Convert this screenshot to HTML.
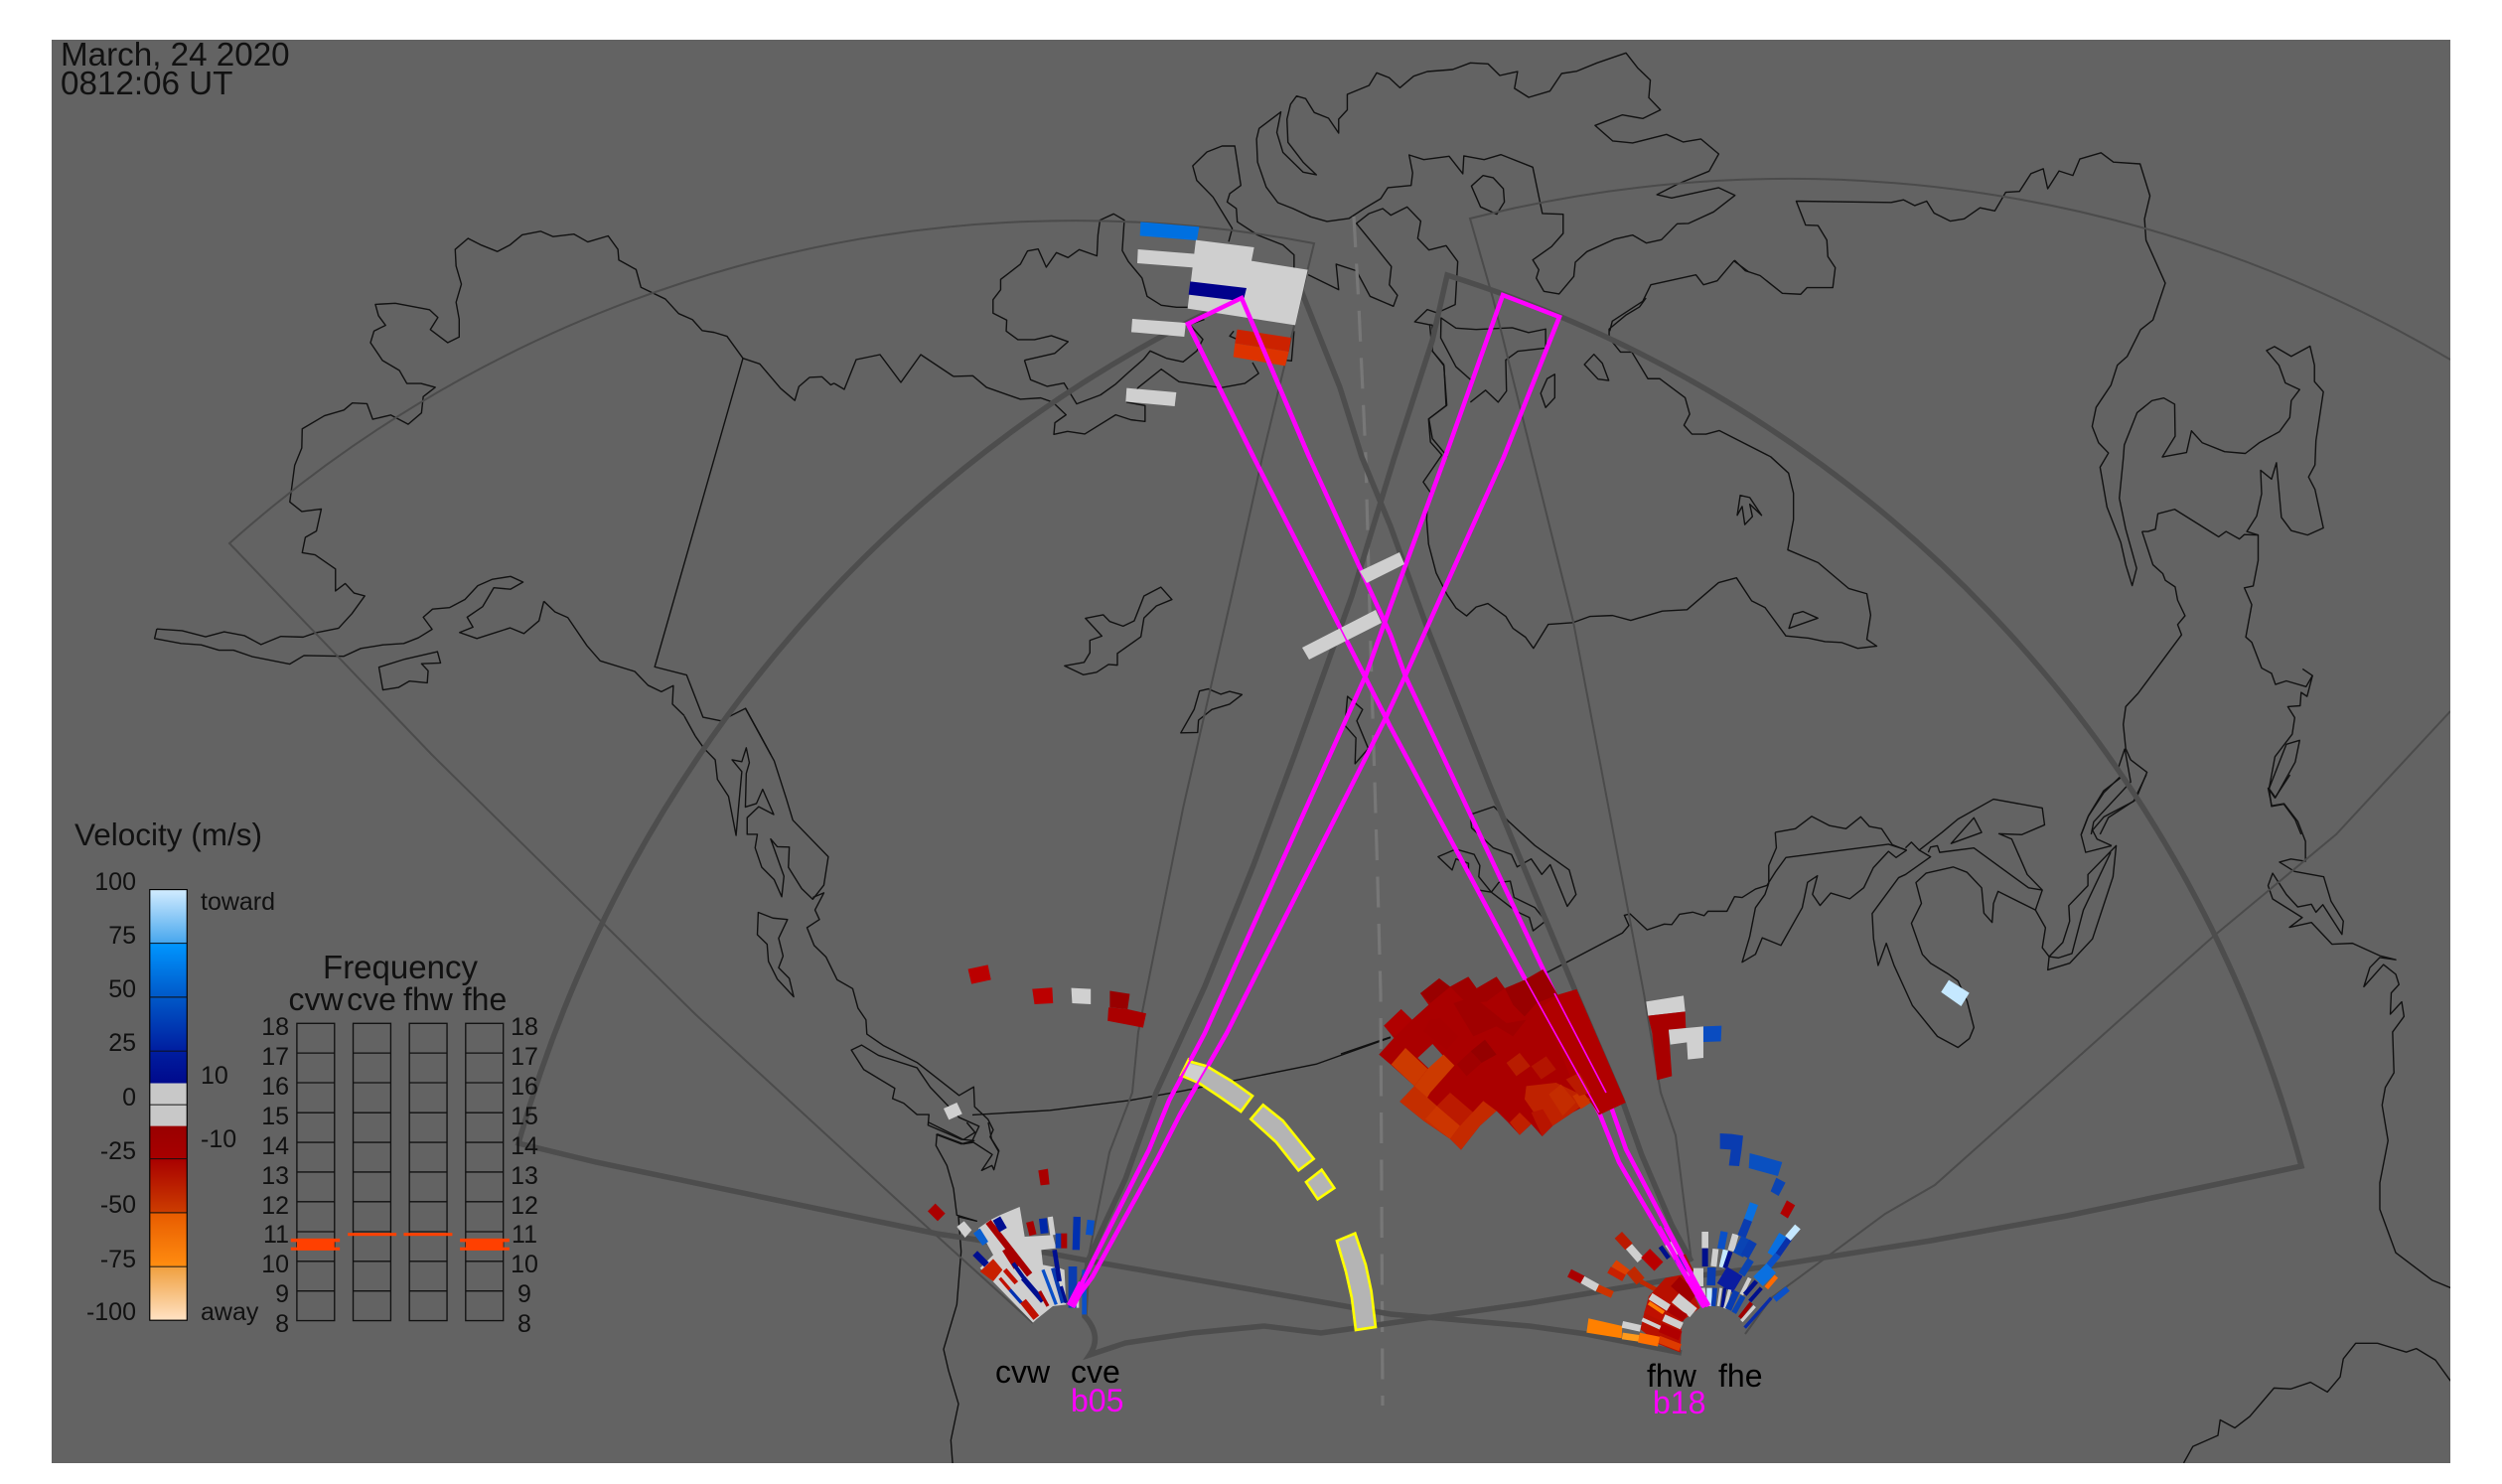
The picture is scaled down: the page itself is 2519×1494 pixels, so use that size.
<!DOCTYPE html>
<html><head><meta charset="utf-8"><style>
html,body{margin:0;padding:0;background:#fff}
svg{display:block}
.c *{fill:none;stroke:#111;stroke-width:1.4;vector-effect:non-scaling-stroke;stroke-linejoin:round}
.t{fill:none;stroke:#4b4b4b;stroke-width:2}
.k{fill:none;stroke:#4d4d4d;stroke-width:5.5;stroke-linejoin:miter}
text{font-family:"Liberation Sans",Arial,sans-serif;fill:#111}
.n{font-size:25px}
.e{text-anchor:end}.m{text-anchor:middle}
</style></head><body>
<svg xmlns="http://www.w3.org/2000/svg" width="2519" height="1494" viewBox="0 0 2519 1494">
<defs>
<clipPath id="p"><rect x="52" y="40" width="2415" height="1433"/></clipPath>
<linearGradient id="cb" x1="0" y1="0" x2="0" y2="1">
<stop offset="0" stop-color="#d2ecff"/><stop offset=".122" stop-color="#4aa8ee"/><stop offset=".125" stop-color="#0096ff"/>
<stop offset=".25" stop-color="#0058c8"/><stop offset=".374" stop-color="#001ea0"/><stop offset=".449" stop-color="#000a8c"/>
<stop offset=".45" stop-color="#c8c8c8"/><stop offset=".548" stop-color="#c8c8c8"/><stop offset=".55" stop-color="#990000"/>
<stop offset=".625" stop-color="#a80000"/><stop offset=".748" stop-color="#cc3c00"/><stop offset=".752" stop-color="#e85c00"/>
<stop offset=".873" stop-color="#ff8c10"/><stop offset=".877" stop-color="#f0a040"/><stop offset="1" stop-color="#ffe2c4"/>
</linearGradient>
</defs>
<rect x="52" y="40" width="2415" height="1433" fill="#636363"/>
<g clip-path="url(#p)">

<!-- coast: crop 7 -->
<g class="c" transform="translate(140,200) scale(.4464,.3571)">
<polyline points="40,1213 97,1218 150,1235 192,1221 238,1232 275,1257 320,1234 370,1236 398,1224 450,1211 480,1170 509,1120 485,1112 465,1085 443,1106 443,1044 397,1004 368,998 375,955 400,937 411,875 367,882 340,855 351,752 367,703 368,649 418,612 462,596 481,576 514,578 527,622 568,610 607,636 637,604 641,558 668,532 636,521 604,521 587,484 549,456 522,406 530,373 556,357 540,330 533,298 578,295 655,313 674,335 657,369 696,406 722,390 722,340 715,292 727,241 715,190 713,143 742,112 770,130 808,149 836,131 864,102 906,92 934,107 981,100 1012,122 1058,105 1080,143 1082,173 1121,200 1132,250 1187,283 1217,324 1248,341 1270,372 1297,377 1326,388 1362,450 1400,466 1447,535 1479,569 1488,530 1512,504 1540,502 1560,525 1568,520"/>
<polyline points="1362,450 1163,1320 1235,1343 1272,1462 1312,1472 1368,1437 1400,1510 1425,1568"/>
<polyline points="913,1135 938,1165 967,1181 1010,1260 1040,1303 1118,1333 1148,1372 1178,1390 1205,1373 1203,1425 1230,1458"/>
<polyline points="913,1135 902,1190 868,1226 837,1210 762,1240 723,1223 753,1208 740,1180 775,1150 800,1097 838,1101 866,1081 838,1065 797,1073 764,1091 735,1130 700,1153 662,1157 641,1180 661,1214 630,1238 597,1254 550,1258 500,1268 462,1290 372,1288 340,1312 255,1291 213,1273 180,1273 140,1258 95,1254 35,1240 40,1213"/>
<polygon points="541,1321 600,1298 673,1277 680,1309 637,1311 652,1331 650,1365 610,1360 585,1378 550,1385"/>
</g>
<g class="c"><polyline points="840,386 850,392 862,362 886,357 907,385 927,357 960,379"/><polyline points="689,721 700,741"/></g>

<!-- coast: crop 8 -->
<g class="c" transform="translate(700,600) scale(.4464,.3571)">
<polyline points="113,317 178,465 205,570 220,632 300,735 290,815 265,855 240,825 210,765 212,708 185,707 170,685 200,790 195,848 178,800 150,765 135,710 140,672 117,672 117,625 143,594 177,616 152,545 138,585 113,595 115,500 122,470 115,428 105,467 83,462 105,495 98,590 92,675 75,565 50,517 45,462 20,430 0,395"/>
<polyline points="265,850 290,837 270,885 280,912 252,935 268,985 295,1018 320,1082 355,1107 367,1162 385,1195 387,1235 425,1268 500,1315 595,1408 628,1384 630,1440 660,1475 672,1505 665,1525 685,1568"/>
<polygon points="352,1280 375,1266 413,1295 500,1330 530,1385 595,1470 640,1495 625,1535 600,1532 525,1492 527,1462 500,1462 470,1430 445,1417 450,1388 380,1335"/>
<polygon points="142,892 175,908 208,912 188,965 198,1015 188,1048 212,1078 222,1130 185,1080 165,1030 162,982 140,955"/>
<polygon points="880,63 920,53 935,72 965,85 990,70 1012,0 1050,-25 1075,10 1040,28 1012,62 1005,115 952,162 952,195 932,193 905,215 875,222 833,197 877,187 890,160 890,125 917,113"/>
<polygon points="1137,268 1157,262 1185,277 1205,269 1233,278 1205,305 1165,320 1135,350 1133,385 1095,386 1125,320"/>
<polygon points="1471,283 1505,320 1492,352 1518,430 1488,473 1490,400 1465,365"/>
<polyline points="625,1463 800,1450 980,1422 1100,1395 1200,1370 1400,1320 1568,1245"/>
<polyline points="543,1518 600,1545 630,1535"/>
</g>

<!-- coast: crop 2 -->
<g class="c" transform="translate(900,1130) scale(.3333)">
<polyline points="105,0 210,52 245,30 220,0"/>
<polyline points="130,35 210,65 240,60 297,97 265,145 296,130 302,143 317,85 295,50 285,0"/>
<polyline points="130,35 127,70 160,130 180,200 190,280 250,298 195,285 203,390 190,550 150,685 165,750 195,850 172,960 178,1040"/>
</g>

<!-- coast: crop 9 -->
<g class="c" transform="translate(960,40) scale(.5102,.3333)">
<polyline points="0,1017 38,1015 65,1050 132,1086 172,1082 196,1095 222,1133 200,1157 198,1192 225,1183 259,1191 320,1133 350,1148 378,1153 378,1105 342,1095 365,1050 410,995 445,1033 528,1051 575,1038 602,1008 590,975"/>
<polyline points="140,968 152,1027 185,1047 218,1037 243,1100 290,1073 320,1040 345,1005 375,965 388,940 420,962 453,973 480,940 492,905 466,860 495,845"/>
<polyline points="140,968 200,947 226,912 193,894 160,906 127,906 104,880 105,847 78,826 78,785 93,755 93,724 132,678 146,638 167,632 183,687 203,643 226,658 248,634 283,653 285,590 289,545 316,526 337,545 333,637 345,670 372,720 382,775 410,802 440,808 462,808"/>
<polyline points="543,610 550,570 512,475 480,425 472,381 500,339 530,321 555,321 567,440 545,465 540,490 558,510 560,550 600,590 650,620 672,650 672,700"/>
<polyline points="700,710 760,755 755,678 795,698 822,775 868,805 876,772 860,740 864,685 835,630 795,555 820,525 847,510 863,530 895,505 922,548 916,600 938,635 972,622 995,670 990,800 954,825 935,815 910,852 937,860 945,862 945,940 968,985 972,1105 938,1145 945,1205 975,1260"/>
<polygon points="603,268 646,218 638,280 650,340 690,400 716,408 690,370 660,310 658,240 665,195 677,170 695,178 712,220 740,237 760,282 760,240 777,212 777,165 820,138 835,100 860,115 881,145 908,110 935,96 985,90 1020,70 1055,73 1078,108 1113,96 1107,147 1135,174 1177,155 1200,102 1230,95 1270,70 1327,40 1350,85 1375,122 1372,175 1395,212 1360,238 1320,227 1266,259 1301,306 1340,312 1407,286 1440,309 1475,300 1510,345 1491,397 1430,435 1388,468 1417,478 1510,447 1542,470 1500,520 1450,555 1428,556 1397,604 1367,614 1340,590 1305,602 1250,640 1227,672 1224,715 1195,768 1165,760 1150,720 1155,695 1143,665 1180,625 1203,585 1203,527 1162,525 1143,385 1080,347 1047,362 1007,351 1005,405 978,352 928,362 899,348 906,402 903,440 857,447 843,480 810,510 780,540 737,549 705,535 670,510 640,492 617,445 600,370 598,300"/>
<polygon points="1045,410 1022,442 1040,505 1072,527 1087,490 1085,450 1065,417"/>
<polyline points="1295,880 1300,850 1340,810 1360,790 1376,740 1465,710 1480,740 1507,728 1540,668 1568,700"/>
<polyline points="553,880 545,895 560,905"/>
<polyline points="672,880 667,970 640,965"/>
</g>

<!-- coast: crop 10 -->
<g class="c" transform="translate(1400,300) scale(.3827,.4464)">
<polyline points="672,0 655,20 620,38 575,70 575,90 605,122 635,122 677,182 708,182 775,225 787,262 772,287 793,307 830,307 865,299 1000,358 1047,395 1060,440 1060,500 1045,568 1125,597 1205,655 1253,667 1263,715 1253,770 1279,785 1229,790 1187,777 1143,775 1100,767 1040,762 985,698 950,683 910,631 863,642 780,703 715,706 632,727 584,716 525,718 480,732 415,736 376,790 355,765 322,745 303,718 256,689 225,697 200,717 172,699 148,668 120,620 100,555 95,500 97,467 110,445 86,415 135,354 105,325 100,273 148,242 140,150 110,120 103,60"/>
<polyline points="218,190 172,155 132,90 133,45 172,68 225,71 320,67 363,78 408,70 408,113 335,120 303,140 305,210 283,235 250,208 210,235"/>
<polygon points="510,150 535,127 557,147 574,186 546,183"/>
<polygon points="432,172 412,182 395,215 408,247 432,225"/>
<polygon points="920,445 912,490 925,470 932,511 952,493 945,465 976,490 945,450"/>
<polygon points="1060,713 1085,707 1124,722 1048,745"/>
<polygon points="210,1165 272,1147 310,1180 380,1235 470,1290 488,1345 465,1372 420,1278 398,1300 370,1265 333,1283 318,1255 270,1240 213,1195"/>
<polyline points="172,1243 220,1255 235,1280 232,1305 265,1340 285,1318 315,1315 325,1352 380,1375 408,1405 375,1427 365,1397 330,1383 265,1340 230,1335"/>
<polyline points="172,1243 125,1260 162,1290 172,1265 205,1275 205,1292"/>
<polyline points="410,1522 470,1495 610,1432 627,1415 615,1392 630,1389 675,1425 720,1412 740,1413 760,1390 795,1385 825,1393 835,1383 885,1383 905,1350 925,1352 960,1333 990,1325 1012,1295 1040,1262 1310,1232 1358,1245"/>
<polyline points="1012,1205 1065,1197 1108,1169 1155,1190 1198,1197 1237,1170 1260,1192 1292,1197 1320,1233 1355,1245"/>
<polyline points="1012,1205 1015,1240 995,1280 995,1320 985,1345 960,1375 945,1440 925,1498 960,1480 978,1443 1027,1460 1083,1375 1097,1318 1123,1303 1110,1345 1130,1370 1158,1342 1208,1355 1245,1330 1270,1285 1310,1248 1330,1262 1358,1245"/>
</g>
<g class="c" transform="translate(1350,950) scale(.3333)">
<polyline points="0,333 150,282"/>
</g>

<!-- coast: crop 11 -->
<g class="c" transform="translate(1700,140) scale(.4974,.4464)">
<polyline points="93,273 115,297 145,308 190,348 227,350 240,335 292,335 297,290 282,265 280,228 262,195 237,194 218,140 410,143 435,137 458,150 482,140 497,167 530,185 558,180 590,155 620,162 642,120 670,118 693,78 718,67 727,112 750,72 778,82 792,45 835,31 860,52 914,56 934,128 923,180 926,228 965,325 940,408 915,430 888,490 868,510 855,555 825,605 817,648 830,685 850,708 833,740 847,830 875,910 885,960 898,1007 907,968 885,880 872,810 880,720 882,690 908,617 938,590 962,584 984,598 985,670 959,717 1008,707 1018,658 1040,685 1085,705 1127,709 1155,685 1196,660 1217,628 1220,590 1237,565 1208,550 1195,510 1170,477 1186,468 1220,490 1258,467 1267,510 1267,547 1285,570 1270,680 1268,735 1255,762 1268,790 1285,877 1253,893 1220,883 1200,853 1190,730 1180,767 1158,747 1160,800 1150,850 1130,885 1153,893 1153,950 1143,1008 1125,1012 1140,1050 1128,1123 1140,1135 1160,1193 1180,1205 1188,1230 1210,1222 1250,1235 1263,1210 1243,1195"/>
<polyline points="1263,1210 1252,1257 1240,1248 1238,1278 1213,1280 1227,1305 1222,1342 1187,1393 1175,1465 1180,1505 1205,1500 1228,1535 1240,1568"/>
<polyline points="918,885 930,885 945,880 950,845 984,835 1060,888 1073,897 1088,885 1115,902 1125,892 1153,893"/>
<polyline points="918,885 940,960 960,980 965,995 985,1010 990,1040 1005,1075 990,1095 998,1118 910,1250 885,1280 880,1320 885,1375 895,1400 928,1428 905,1490 850,1530 833,1568"/>
<polyline points="883,1375 870,1418 875,1440 840,1470 810,1525 795,1568"/>
<polyline points="883,1375 895,1450 820,1540 815,1568"/>
<polygon points="1210,1365 1237,1356 1228,1405 1188,1485 1175,1465"/>
</g>

<!-- coast: crop 12 -->
<g class="c" transform="translate(1760,780) scale(.4592,.4464)">
<polyline points="345,165 358,152 375,170 400,185 345,225 330,232 272,313 275,370 285,430 303,380 320,430 360,520 415,590 460,615 485,595 495,570 480,510 460,465 440,450 400,425 382,405 358,335 380,290 368,243 390,222 450,208 480,220 512,255 517,312 535,333 538,290 548,263 630,305 645,260 612,225 578,145 550,133 600,135 650,113 645,75 538,55 460,100 425,130 375,170"/>
<polygon points="445,155 495,97 512,130"/>
<polyline points="395,175 400,163 415,160 420,175 495,165 615,255 645,260"/>
<polyline points="630,305 652,345 645,390 660,410 680,413 710,403 735,305 795,175"/>
<polyline points="660,410 690,378 705,330 703,295 745,250 745,225 807,160 800,230 755,370 705,425 657,440 660,410"/>
<polyline points="797,160 765,145 755,125 780,95 845,60 873,0"/>
<polyline points="797,160 740,175 730,135 745,95 780,40 815,5"/>
<polyline points="1188,0 1155,52 1140,30 1148,70 1175,65 1205,105 1222,150 1222,195 1190,190 1165,197 1198,218 1262,230 1278,285 1305,330 1302,360 1260,293 1245,310 1235,292 1205,298 1180,270 1150,222 1140,250 1150,280 1215,322 1187,344 1235,333 1280,382 1325,380 1385,408 1420,417 1385,412 1363,435 1350,478 1393,428 1420,450 1427,473 1410,492 1408,540 1433,512 1438,545 1413,580 1416,672 1397,705 1390,745 1403,825 1385,920 1385,980 1420,1078 1500,1140 1540,1157"/>
<polyline points="955,1552 975,1515 1030,1490 1035,1455 1067,1473 1100,1447 1153,1383 1190,1385 1233,1370 1270,1392 1298,1358 1305,1317 1332,1282 1380,1282 1443,1302 1465,1294 1507,1320 1540,1367"/>
</g>

<!-- thin FOV -->
<path class="t" d="M1040,1332 L900,1205 700,1021 435,760 231,547 A1278,1278 0 0 1 1323,245 L1271,460 1240,600 1191,814 1146,1039 1140,1100 1117,1160 1095,1270 1080,1310"/>
<path class="t" d="M1703,1270 L1687,1143 1672,1100 1655,1000 1584,626 1503,300 1480,220 A1308,1308 0 0 1 2467,362"/>
<polyline class="t" points="2467,716 2352,840 2228,943 1948,1193 1898,1222 1783,1307 1757,1343"/>

<!-- dashed centre -->
<polyline fill="none" stroke="#777" stroke-width="3.2" stroke-dasharray="31,16.5" points="1363,218 1368,307 1375,460 1380,653 1387,886 1390,1000 1391,1200 1392,1415"/>

<!-- thick FOV -->
<path class="k" d="M1693,1362 L1597,1343 1540,1335 1400,1323 1100,1270 983,1248 943,1242 900,1233 600,1170 522,1151 A1340,1340 0 0 1 1303,275 L1349,390 1371,460 1400,530 1438,635 1500,791 1587,1000 1633,1107 1653,1163 1683,1233 1703,1270"/>
<path class="k" d="M1095,1270 L1092,1325 Q1110,1345 1097,1364 L1133,1352 1200,1342 1273,1335 1313,1340 1330,1342 1400,1332 1540,1312 1683,1288 1780,1275 1944,1249 2081,1224 2219,1195 2317,1174 A1291,1291 0 0 0 1457,277 L1442,343 1404,460 1361,600 1303,761 1262,871 1213,993 1164,1100 1133,1187 1113,1230 1095,1270"/>

<!-- magenta beams (under scatter) -->
<g fill="none" stroke="#ff00ff" stroke-width="4.5" stroke-linejoin="miter">
<polyline points="1078,1315 1100,1270 1157,1157 1177,1108 1213,1040 1375,680 1400,610 1455,460 1513,297 1570,319 1514,460 1415,680 1396,721 1235,1040 1188,1122 1165,1167 1100,1285 1078,1315"/>
<polyline points="1715,1315 1630,1170 1610,1120 1534,983 1400,732 1262,460 1196,326 1250,300 1318,460 1400,639 1415,681 1565,1000 1617,1100 1637,1157 1720,1315"/>
</g>

<!-- north scatter, crop 4 -->
<g transform="translate(1100,200) scale(.3333)">
<polygon fill="#0070e0" points="145,70 322,85 315,126 143,112"/>
<polygon fill="#cfcfcf" points="137,153 310,167 305,208 135,195"/>
<polygon fill="#cfcfcf" points="312,125 488,147 480,188 650,215 612,382 287,332"/>
<polygon fill="#00008b" points="295,250 465,270 455,310 290,290"/>
<polygon fill="#cfcfcf" points="120,363 282,375 277,417 117,403"/>
<polygon fill="#cfcfcf" points="103,572 253,585 248,627 100,613"/>
<polygon fill="#cc2200" points="437,395 600,420 593,462 430,437"/>
<polygon fill="#dd3300" points="430,437 593,462 582,505 425,478"/>
</g>
<polyline fill="none" stroke="#ff00ff" stroke-width="4.5" stroke-linejoin="miter" points="1262,460 1196,326 1250,300 1318,460"/>
<polygon fill="#cfcfcf" points="1369,575 1409,556 1414,568 1376,587"/>
<polygon fill="#cfcfcf" points="1311,652 1385,614 1391,627 1318,664"/>

<!-- crop 8 scatter -->
<g transform="translate(700,600) scale(.4464,.3571)">
<polygon fill="#bb0000" points="615,1052 660,1040 667,1082 623,1094"/>
<polygon fill="#bb0000" points="760,1108 805,1104 807,1148 765,1151"/>
<polygon fill="#d0d0d0" points="848,1105 892,1108 892,1151 850,1148"/>
<polygon fill="#990000" points="935,1113 980,1122 975,1165 935,1160"/>
<polygon fill="#aa0000" points="932,1160 975,1165 1017,1177 1010,1217 930,1198"/>
<polygon fill="#d0d0d0" points="560,1445 590,1428 602,1460 572,1477"/>
</g>
<g transform="translate(1760,780) scale(.4592,.4464)">
<polygon fill="#c5e8ff" points="423,490 440,463 485,492 467,522"/>
</g>

<!-- red cluster, crop 5 -->
<g transform="translate(1350,950) scale(.3333)">
<polygon fill="#aa0000" fill-rule="evenodd" points="240,150 297,105 330,130 385,100 410,135 470,100 495,135 555,110 610,78 655,155 712,138 860,480 780,517 755,480 700,510 640,550 608,582 575,545 540,578 505,540 470,505 420,550 363,623 330,590 250,535 178,477 222,430 150,365 115,335 160,285 130,248 182,198 215,230 265,185"/>
<polygon fill="#636363" points="232,345 277,303 310,340 265,377"/>
<polygon fill="#990000" points="240,150 297,105 330,130 270,180"/>
<polygon fill="#a00000" points="330,130 385,100 410,135 470,100 495,135 440,175 380,180"/>
<polygon fill="#990000" points="495,135 555,110 610,78 655,155 590,180 555,220 520,185"/>
<polygon fill="#b00000" points="130,248 182,198 215,230 165,280"/>
<polygon fill="#a80000" points="270,230 300,225 355,280 320,320 250,265"/>
<polygon fill="#b00000" points="610,190 655,155 712,138 860,480 780,517 755,470 700,420"/>
<polygon fill="#a00000" points="340,180 400,160 500,240 560,230 520,280 470,250 400,280"/>
<polygon fill="#950000" points="392,325 435,290 470,335 425,360"/>
<polygon fill="#a00000" points="350,365 392,325 425,360 380,400"/>
<polygon fill="#cc3a00" points="152,365 195,315 262,378 222,430"/>
<polygon fill="#cc3a00" points="178,477 222,430 262,378 310,335 343,368 270,450 240,500"/>
<polygon fill="#c42e00" points="178,477 222,430 290,490 360,550 330,590 250,535"/>
<polygon fill="#cc3500" points="255,530 290,490 360,550 330,590"/>
<polygon fill="#bb1a00" points="290,490 330,450 400,510 360,550"/>
<polygon fill="#c42a00" points="360,550 430,475 470,505 420,550 363,623 330,590"/>
<polygon fill="#b81c00" points="500,360 540,330 572,370 530,400"/>
<polygon fill="#b41400" points="575,370 620,340 650,380 605,410"/>
<polygon fill="#bf2200" points="560,430 650,420 755,470 700,510 640,550 590,520 555,470"/>
<polygon fill="#c42c00" points="628,455 665,425 710,480 670,520"/>
<polygon fill="#cc3500" points="700,460 730,445 755,480 725,500"/>
<polygon fill="#c02000" points="510,540 540,510 575,545 540,578"/>
<polygon fill="#b81400" points="575,510 610,500 640,550 608,582"/>
<polygon fill="#ba1a00" points="680,410 720,390 755,450 720,460"/>
<polygon fill="#d0d0d0" points="922,175 1035,157 1040,205 928,218"/>
<polygon fill="#a80000" points="928,218 1040,205 1042,255 990,262 1000,400 955,412 940,270"/>
<polygon fill="#d0d0d0" points="990,260 1095,250 1095,345 1048,350 1045,298 995,305"/>
<polygon fill="#0a4cc0" points="1095,250 1150,248 1148,295 1095,297"/>
</g>

<!-- fhw/fhe fan, crop 3 -->
<g transform="translate(1540,1100) scale(.3333)" fill="none">
<polygon fill="#0a3cb0" points="575,123 610,125 645,130 640,175 633,222 602,220 608,172 575,170"/>
<polygon fill="#0a50c0" points="665,183 700,192 763,210 750,252 662,228"/>
<polygon fill="#0a44b4" points="745,257 773,272 752,312 728,298"/>
<polygon fill="#b00000" points="777,325 802,340 780,380 757,365"/>
<path d="M530 420L530 470" stroke="#cfcfcf" stroke-width="20"/>
<path d="M530 470L530 525" stroke="#00108c" stroke-width="18"/>
<path d="M510 530L510 585" stroke="#cfcfcf" stroke-width="30"/>
<path d="M550 528L548 582" stroke="#0a3cb0" stroke-width="26"/>
<path d="M562 472L556 525" stroke="#cfcfcf" stroke-width="18"/>
<path d="M588 420L578 472" stroke="#0a50c8" stroke-width="22"/>
<path d="M592 475L580 528" stroke="#c5e8ff" stroke-width="16"/>
<path d="M607 480L590 530" stroke="#00108c" stroke-width="14"/>
<path d="M622 428L608 478" stroke="#cfcfcf" stroke-width="20"/>
<path d="M678 335L660 385" stroke="#0a70e0" stroke-width="26"/>
<path d="M660 385L640 435" stroke="#0a3cb0" stroke-width="26"/>
<path d="M655 440L630 490" stroke="#0a44b4" stroke-width="34"/>
<path d="M675 450L650 495" stroke="#0a3cb0" stroke-width="26"/>
<path d="M668 505L640 550" stroke="#0a44b4" stroke-width="22"/>
<path d="M620 540L590 590" stroke="#0a1ca0" stroke-width="55"/>
<path d="M520 590L525 640" stroke="#cfcfcf" stroke-width="20"/>
<path d="M543 590L543 645" stroke="#c5e8ff" stroke-width="16"/>
<path d="M560 590L555 645" stroke="#0a3cb0" stroke-width="14"/>
<path d="M578 590L570 645" stroke="#cfcfcf" stroke-width="8"/>
<path d="M590 590L582 648" stroke="#00108c" stroke-width="10"/>
<path d="M605 595L590 652" stroke="#cfcfcf" stroke-width="10"/>
<path d="M625 600L600 655" stroke="#0a3cb0" stroke-width="20"/>
<path d="M645 615L617 665" stroke="#0a44b4" stroke-width="16"/>
<path d="M665 560L640 610" stroke="#cfcfcf" stroke-width="12"/>
<path d="M685 570L650 610" stroke="#00108c" stroke-width="14"/>
<path d="M700 590L665 630" stroke="#00108c" stroke-width="12"/>
<path d="M670 635L635 680" stroke="#a00000" stroke-width="12"/>
<path d="M680 645L640 690" stroke="#cfcfcf" stroke-width="10"/>
<path d="M730 620L650 710" stroke="#0a2ca8" stroke-width="10"/>
<path d="M780 592L740 625" stroke="#0a50c8" stroke-width="18"/>
<path d="M765 430L730 490" stroke="#0a70e0" stroke-width="26"/>
<path d="M785 440L750 490" stroke="#0a30a8" stroke-width="18"/>
<path d="M810 405L780 440" stroke="#c5e8ff" stroke-width="22"/>
<path d="M750 490L700 550" stroke="#0a50c8" stroke-width="20"/>
<path d="M730 530L690 570" stroke="#0a70e0" stroke-width="40"/>
<path d="M745 555L715 590" stroke="#ff6a00" stroke-width="14"/>
<path d="M268 430L300 465" stroke="#bb1a00" stroke-width="30"/>
<path d="M300 465L335 505" stroke="#cfcfcf" stroke-width="24"/>
<path d="M350 485L390 525" stroke="#b80000" stroke-width="38"/>
<path d="M395 465L420 500" stroke="#00108c" stroke-width="14"/>
<path d="M420 455L445 490" stroke="#cfcfcf" stroke-width="26"/>
<path d="M445 500L470 535" stroke="#0a3cb0" stroke-width="20"/>
<path d="M465 490L490 540" stroke="#aa1000" stroke-width="12"/>
<path d="M470 545L500 590" stroke="#cfcfcf" stroke-width="16"/>
<path d="M120 545L160 565" stroke="#aa0000" stroke-width="26"/>
<path d="M160 565L205 590" stroke="#cfcfcf" stroke-width="24"/>
<path d="M205 590L250 610" stroke="#cc3300" stroke-width="22"/>
<path d="M255 515L295 545" stroke="#dd4000" stroke-width="24"/>
<path d="M240 535L285 560" stroke="#c82000" stroke-width="22"/>
<path d="M305 535L335 570" stroke="#c02800" stroke-width="32"/>
<path d="M335 570L390 600" stroke="#c02800" stroke-width="14"/>
<polygon fill="#b81000" points="345,670 360,615 410,560 460,550 490,600 515,650 460,690 455,785 390,760 335,715"/>
<path d="M440 570L495 620" stroke="#a00000" stroke-width="40"/>
<path d="M365 615L420 650" stroke="#cfcfcf" stroke-width="22"/>
<path d="M360 635L405 665" stroke="#ff7a00" stroke-width="12"/>
<path d="M350 655L400 680" stroke="#c01000" stroke-width="20"/>
<path d="M340 685L395 710" stroke="#cfcfcf" stroke-width="12"/>
<path d="M440 620L495 665" stroke="#cfcfcf" stroke-width="35"/>
<path d="M420 650L470 680" stroke="#a80000" stroke-width="25"/>
<path d="M405 680L460 705" stroke="#cfcfcf" stroke-width="22"/>
<path d="M395 710L455 735" stroke="#b00000" stroke-width="28"/>
<path d="M390 745L455 770" stroke="#dd3b00" stroke-width="22"/>
<polygon fill="#ff8000" points="178,682 280,705 278,742 172,725"/>
<path d="M280 700L335 712" stroke="#cfcfcf" stroke-width="20"/>
<path d="M280 735L330 742" stroke="#ff9a1a" stroke-width="20"/>
<path d="M330 740L390 752" stroke="#ff7000" stroke-width="30"/>
</g>

<!-- cvw/cve fan, crop 2 -->
<g transform="translate(900,1130) scale(.3333)" fill="none">
<polygon fill="#cfcfcf" points="320,280 380,255 395,345 480,340 490,380 445,385 450,430 500,440 515,445 520,550 480,555 430,595 420,605 260,440 300,400 255,320 290,295"/>
<path d="M285 300L410 460" stroke="#a80000" stroke-width="20"/>
<path d="M310 290L330 325" stroke="#000f90" stroke-width="26"/>
<path d="M410 300L420 340" stroke="#a80000" stroke-width="22"/>
<path d="M450 290L455 335" stroke="#0028a8" stroke-width="24"/>
<path d="M472 285L480 340" stroke="#cfcfcf" stroke-width="16"/>
<path d="M497 335L497 380" stroke="#0a3cb0" stroke-width="18"/>
<path d="M514 335L514 380" stroke="#aa0000" stroke-width="18"/>
<path d="M553 285L550 385" stroke="#0030b0" stroke-width="22"/>
<path d="M595 295L590 340" stroke="#0a50c8" stroke-width="22"/>
<path d="M245 395L280 430" stroke="#000f90" stroke-width="20"/>
<polygon fill="#c82000" points="260,450 300,412 328,445 300,480"/>
<path d="M340 380L375 435" stroke="#a80000" stroke-width="30"/>
<path d="M360 425L410 495" stroke="#000f90" stroke-width="12"/>
<path d="M390 470L450 540" stroke="#000f90" stroke-width="16"/>
<path d="M335 445L370 485" stroke="#c01000" stroke-width="14"/>
<path d="M320 470L350 505" stroke="#c01000" stroke-width="10"/>
<path d="M350 505L385 545" stroke="#0030b0" stroke-width="10"/>
<path d="M390 540L430 590" stroke="#c01000" stroke-width="22"/>
<path d="M440 510L465 555" stroke="#aa0000" stroke-width="10"/>
<path d="M450 445L490 550" stroke="#0a50c8" stroke-width="10"/>
<path d="M480 440L510 545" stroke="#0a3cb0" stroke-width="12"/>
<path d="M485 385L500 480" stroke="#000f90" stroke-width="14"/>
<path d="M505 495L520 545" stroke="#000f90" stroke-width="10"/>
<path d="M540 435L540 560" stroke="#0a3cb0" stroke-width="26"/>
<path d="M575 445L575 580" stroke="#0a50c8" stroke-width="14"/>
<path d="M555 500L555 560" stroke="#cfcfcf" stroke-width="8"/>
<polygon fill="#d0d0d0" points="190,315 212,298 235,325 215,348"/>
<polygon fill="#0a60d0" points="240,335 260,320 285,360 268,372"/>
<polygon fill="#aa0000" points="125,245 155,275 132,298 102,268"/>
<polygon fill="#aa0000" points="436,145 465,140 470,187 443,190"/>
</g>

<!-- thin magenta over scatter -->
<g fill="none" stroke="#ff00ff" stroke-width="1.6">
<polyline points="1262,460 1400,732 1534,983 1610,1120"/>
<polyline points="1565,1000 1617,1100"/>
<polyline points="1542,950 1415,681"/>
<polyline points="1400,610 1375,680"/>
</g>
<path d="M1078,1315L1100,1270M1078,1315L1100,1285M1715,1315L1670,1235M1720,1315L1677,1235" fill="none" stroke="#ff00ff" stroke-width="4.5"/>
<path d="M1078,1315L1090,1292" fill="none" stroke="#ff00ff" stroke-width="9"/>
<path d="M1718,1315L1700,1285" fill="none" stroke="#ff00ff" stroke-width="9"/>

<!-- yellow boxes, crop 6 -->
<g transform="translate(1100,1040) scale(.3333)" fill="#b4b4b4" stroke="#ffff00" stroke-width="8" stroke-linejoin="miter">
<polygon points="290,85 345,100 420,145 483,190 448,237 380,190 320,150 272,130"/>
<polygon points="515,217 575,265 668,380 622,415 555,330 478,260"/>
<polygon points="692,413 730,468 680,502 645,450"/>
<polygon points="793,605 825,700 842,780 855,888 795,897 783,800 765,720 738,628"/>
<polygon fill="#cfcfcf" stroke="none" points="290,92 340,105 320,148 278,128"/>
<path d="M263,130L290,75" fill="none" stroke-width="3"/>
</g>
<path d="M1213,1040L1177,1108M1235,1040L1203,1095" fill="none" stroke="#ff00ff" stroke-width="2"/>

</g>

<!-- colorbar & frequency, crop 1 coordinates -->
<g transform="translate(0,780) scale(.3827)">
<rect x="394" y="302" width="98" height="1133" fill="url(#cb)" stroke="#000" stroke-width="3"/>
<path d="M394 443H492M394 585H492M394 727H492M394 868H492M394 1010H492M394 1152H492M394 1294H492" stroke="#111" stroke-width="3" opacity=".85"/>
<g fill="none" stroke="#111" stroke-width="3.5">
<rect x="781" y="654" width="99" height="782"/><rect x="929" y="654" width="99" height="782"/>
<rect x="1077" y="654" width="99" height="782"/><rect x="1225" y="654" width="99" height="782"/>
<path d="M781 732H880M929 732H1028M1077 732H1176M1225 732H1324M781 810H880M929 810H1028M1077 810H1176M1225 810H1324M781 889H880M929 889H1028M1077 889H1176M1225 889H1324M781 967H880M929 967H1028M1077 967H1176M1225 967H1324M781 1045H880M929 1045H1028M1077 1045H1176M1225 1045H1324M781 1123H880M929 1123H1028M1077 1123H1176M1225 1123H1324M781 1202H880M929 1202H1028M1077 1202H1176M1225 1202H1324M781 1280H880M929 1280H1028M1077 1280H1176M1225 1280H1324M781 1358H880M929 1358H1028M1077 1358H1176M1225 1358H1324"/>
</g>
<g fill="#ff4000">
<rect x="781" y="1220" width="99" height="31"/><rect x="765" y="1220" width="129" height="9"/><rect x="765" y="1243" width="129" height="8"/>
<rect x="1225" y="1220" width="99" height="31"/><rect x="1210" y="1220" width="130" height="9"/><rect x="1210" y="1243" width="130" height="8"/>
<rect x="915" y="1205" width="128" height="8"/><rect x="1062" y="1205" width="128" height="8"/>
</g>
</g>

<!-- labels -->
<text x="61" y="66" font-size="33.2">March, 24 2020</text>
<text x="61" y="95" font-size="33.2">0812:06 UT</text>
<text x="75" y="851" font-size="31.5">Velocity (m/s)</text>
<g class="n">
<text class="n e" x="137" y="896">100</text><text class="n e" x="137" y="950">75</text><text class="n e" x="137" y="1004">50</text>
<text class="n e" x="137" y="1058">25</text><text class="n e" x="137" y="1113">0</text><text class="n e" x="137" y="1167">-25</text>
<text class="n e" x="137" y="1221">-50</text><text class="n e" x="137" y="1276">-75</text><text class="n e" x="137" y="1329">-100</text>
<text class="n" x="202" y="916">toward</text><text class="n" x="202" y="1091">10</text><text class="n" x="202" y="1155">-10</text><text class="n" x="202" y="1329">away</text>
</g>
<text class="m" x="403" y="985" font-size="33">Frequency</text>
<text class="m" x="318" y="1017" font-size="32">cvw</text><text class="m" x="374" y="1017" font-size="32">cve</text>
<text class="m" x="431" y="1017" font-size="32">fhw</text><text class="m" x="488" y="1017" font-size="32">fhe</text>
<text class="n e" x="291" y="1042">18</text><text class="n e" x="291" y="1072">17</text><text class="n e" x="291" y="1102">16</text><text class="n e" x="291" y="1132">15</text>
<text class="n e" x="291" y="1162">14</text><text class="n e" x="291" y="1192">13</text><text class="n e" x="291" y="1222">12</text><text class="n e" x="291" y="1251">11</text>
<text class="n e" x="291" y="1281">10</text><text class="n e" x="291" y="1311">9</text><text class="n e" x="291" y="1341">8</text>
<text class="n m" x="528" y="1042">18</text><text class="n m" x="528" y="1072">17</text><text class="n m" x="528" y="1102">16</text><text class="n m" x="528" y="1132">15</text>
<text class="n m" x="528" y="1162">14</text><text class="n m" x="528" y="1192">13</text><text class="n m" x="528" y="1222">12</text><text class="n m" x="528" y="1251">11</text>
<text class="n m" x="528" y="1281">10</text><text class="n m" x="528" y="1311">9</text><text class="n m" x="528" y="1341">8</text>
<text x="1002" y="1392" font-size="32" style="fill:#000">cvw</text>
<text x="1078" y="1392" font-size="32" style="fill:#000">cve</text>
<text x="1078" y="1421" font-size="32" style="fill:#ff00ff">b05</text>
<text x="1658" y="1396" font-size="32" style="fill:#000">fhw</text>
<text x="1730" y="1396" font-size="32" style="fill:#000">fhe</text>
<text x="1664" y="1423" font-size="32" style="fill:#ff00ff">b18</text>
</svg>
</body></html>
